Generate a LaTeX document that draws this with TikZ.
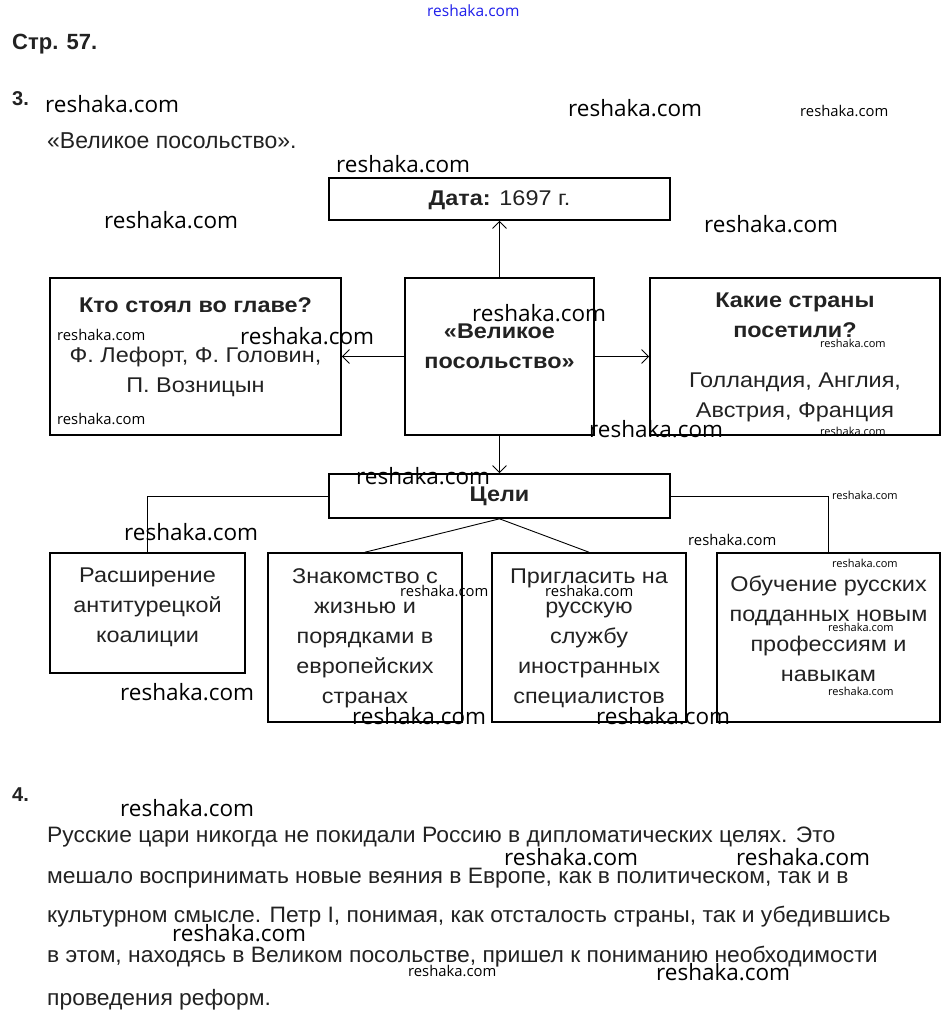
\documentclass[tikz,border=0pt]{standalone}
\usepackage{fontspec}
\setmainfont{Liberation Sans}
\newfontfamily\boxfont[FakeStretch=1.1]{Liberation Sans}
\newfontfamily\parafont[FakeStretch=1.025]{Liberation Sans}
\newfontfamily\wmfont{Open Sans}
\usepackage{tikz}
\usetikzlibrary{arrows.meta}
\definecolor{wmBlue}{RGB}{30,30,235}
\definecolor{textGray}{RGB}{34,34,34}

\begin{document}
\begin{tikzpicture}[x=1pt,y=-1pt,
  box/.style={draw, line width=1.6pt, inner sep=0pt},
  boxtxt/.style={align=center, inner sep=0pt, text=textGray, font=\boxfont\fontsize{21.3}{30}\selectfont},
  bodytxt/.style={anchor=west, inner sep=0pt, text=textGray, font=\parafont\fontsize{22.3}{26}\selectfont},
  link/.style={line width=0.9pt},
  arr/.style={line width=0.9pt, -{Straight Barb[length=7pt,width=14pt]}},
  wmbig/.style={anchor=west, inner sep=0pt, font=\wmfont\fontsize{22.5}{24}\selectfont},
  wmmid/.style={anchor=west, inner sep=0pt, font=\wmfont\fontsize{14.8}{16}\selectfont},
  wmsmall/.style={anchor=west, inner sep=0pt, font=\wmfont\fontsize{11}{12}\selectfont}]
  \fill[white] (0,0) rectangle (950,1028);
  \useasboundingbox (0,0) rectangle (950,1028);

  % Headings
  \node[bodytxt, font=\bfseries\fontsize{22}{26}\selectfont] (page) at (12,44) {Стр. 57.};
  \node[bodytxt, font=\bfseries\fontsize{20}{22}\selectfont] (num3) at (12,99) {3.};
  \node[bodytxt, font=\fontsize{23}{26}\selectfont] (title) at (47,141) {«Великое посольство».};

  % Top row
  \node[box, minimum width=341pt, minimum height=42pt] (date) at (499.5,199) {};
  \node[boxtxt] (datetxt) at (499.5,200) {\textbf{Дата:} 1697 г.};
  \node[box, minimum width=291pt, minimum height=157pt] (head) at (195.5,356.5) {};
  \node[boxtxt] (headtxt) at (195.5,347) {\textbf{Кто стоял во главе?}\\[20pt]Ф. Лефорт, Ф. Головин,\\П. Возницын};
  \node[box, minimum width=189pt, minimum height=157pt] (embassy) at (499.5,356.5) {};
  \node[boxtxt] (embassytxt) at (499.5,346) {\textbf{«Великое}\\\textbf{посольство»}};
  \node[box, minimum width=290pt, minimum height=157pt] (lands) at (795,356.5) {};
  \node[boxtxt] (landstxt) at (795,357) {\textbf{Какие страны}\\\textbf{посетили?}\\[20pt]Голландия, Англия,\\Австрия, Франция};

  % Goals
  \node[box, minimum width=341pt, minimum height=44pt] (goals) at (499.5,496) {};
  \node[boxtxt] (goalstxt) at (499.5,496) {\textbf{Цели}};
  \node[box, minimum width=195pt, minimum height=120pt] (g1) at (147.5,613) {};
  \node[boxtxt] (g1txt) at (147.5,607) {Расширение\\антитурецкой\\коалиции};
  \node[box, minimum width=194pt, minimum height=169pt] (g2) at (365,637.5) {};
  \node[boxtxt] (g2txt) at (365,638) {Знакомство с\\жизнью и\\порядками в\\европейских\\странах};
  \node[box, minimum width=194pt, minimum height=169pt] (g3) at (589,637.5) {};
  \node[boxtxt] (g3txt) at (589,638) {Пригласить на\\русскую\\службу\\иностранных\\специалистов};
  \node[box, minimum width=223pt, minimum height=169pt] (g4) at (828.5,637.5) {};
  \node[boxtxt] (g4txt) at (828.5,629) {Обучение русских\\подданных новым\\профессиям и\\навыкам};

  % Connectors
  \draw[arr] (embassy.north) -- (date.south);
  \draw[arr] (embassy.west) -- (head.east);
  \draw[arr] (embassy.east) -- (lands.west);
  \draw[arr] (embassy.south) -- (goals.north);
  \draw[link] (goals.west) -| (g1.north);
  \draw[link] (goals.east) -| (g4.north);
  \draw[link] (goals.south) -- (g2.north);
  \draw[link] (goals.south) -- (g3.north);

  % Task 4
  \node[bodytxt, font=\bfseries\fontsize{20}{22}\selectfont] (num4) at (12,795) {4.};
  \node[bodytxt] (p1) at (47,837) {Русские цари никогда не покидали Россию в дипломатических целях. Это};
  \node[bodytxt] (p2) at (47,878) {мешало воспринимать новые веяния в Европе, как в политическом, так и в};
  \node[bodytxt] (p3) at (47,917) {культурном смысле. Петр I, понимая, как отсталость страны, так и убедившись};
  \node[bodytxt] (p4) at (47,957) {в этом, находясь в Великом посольстве, пришел к пониманию необходимости};
  \node[bodytxt] (p5) at (47,1000) {проведения реформ.};

  % Watermarks
  \node[anchor=west, inner sep=0pt, text=wmBlue, font=\wmfont\fontsize{15.5}{16}\selectfont] (wmtop) at (427,11) {reshaka.com};
  \foreach \x/\y [count=\i] in {45/104, 568/108, 336/164, 104/220, 704/224, 472/313, 240/336,
      589/429, 356/476, 124/532, 120/692, 352/716, 596/716, 120/808, 504/857, 736/857, 172/933, 656/972}
    \node[wmbig] (wmb\i) at (\x,\y) {reshaka.com};
  \foreach \x/\y [count=\i] in {800/111, 57/335, 57/419, 688/540, 400/591, 545/591, 408/971}
    \node[wmmid] (wmm\i) at (\x,\y) {reshaka.com};
  \foreach \x/\y [count=\i] in {820/343, 820/431, 832/495, 832/563, 828/627, 828/691}
    \node[wmsmall] (wms\i) at (\x,\y) {reshaka.com};
\end{tikzpicture}
\end{document}
